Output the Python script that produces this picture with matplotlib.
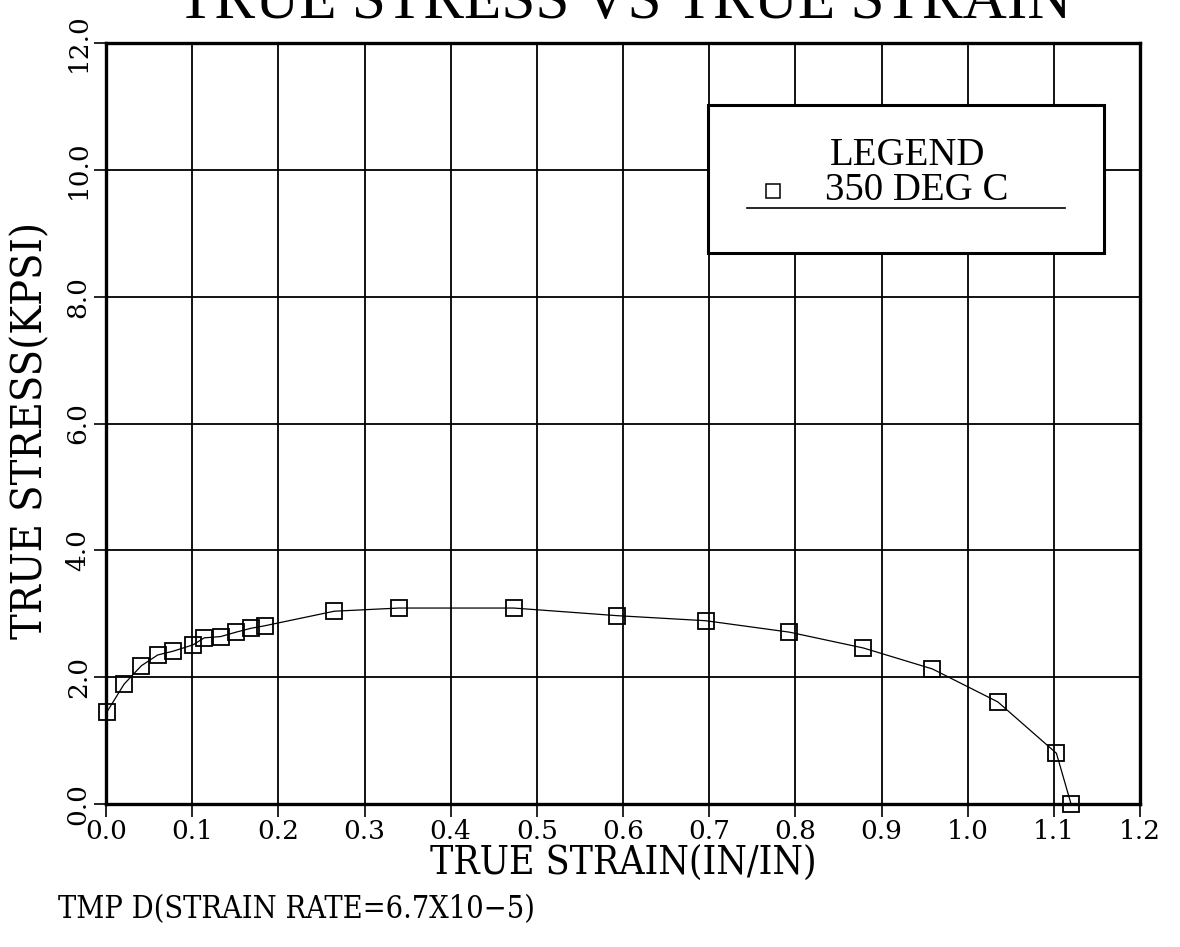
import matplotlib
matplotlib.use("Agg")
import matplotlib.pyplot as plt
from matplotlib import font_manager
from matplotlib.patches import Rectangle
from matplotlib.lines import Line2D

# true strain (in/in) and true stress (kpsi), 350 deg C
strain = [0.001, 0.021, 0.041, 0.060, 0.078, 0.101, 0.114, 0.133, 0.151, 0.168,
          0.184, 0.265, 0.340, 0.473, 0.593, 0.696, 0.793, 0.879, 0.959, 1.035,
          1.103, 1.120]
stress = [1.45, 1.89, 2.18, 2.35, 2.41, 2.51, 2.62, 2.64, 2.71, 2.77,
          2.81, 3.04, 3.09, 3.09, 2.97, 2.89, 2.71, 2.46, 2.13, 1.61,
          0.80, 0.00]

x_ticks = [0.0, 0.1, 0.2, 0.3, 0.4, 0.5, 0.6, 0.7, 0.8, 0.9, 1.0, 1.1, 1.2]
y_ticks = [0.0, 2.0, 4.0, 6.0, 8.0, 10.0, 12.0]

title = "TRUE STRESS VS TRUE STRAIN"
x_label = "TRUE STRAIN(IN/IN)"
y_label = "TRUE STRESS(KPSI)"
subtitle = "TMP D(STRAIN RATE=6.7X10\u22125)"
series_name = "350 DEG C"

# narrow serif for the labels if the condensed DejaVu face is there
names = {f.name for f in font_manager.fontManager.ttflist}
if "DejaVu Serif Condensed" in names:
    NARROW = dict(fontfamily="DejaVu Serif Condensed")
else:
    NARROW = dict(fontfamily="DejaVu Serif", fontstretch="condensed")
SERIF = "Liberation Serif"
TICKFONT = "DejaVu Serif"

fig = plt.figure(figsize=(11.8, 9.47), dpi=100)
ax = fig.add_axes([106 / 1180, 1 - 804 / 947, 1034 / 1180, 761 / 947])

ax.plot(strain, stress, color="black", linewidth=0.9, marker="s", markersize=12,
        markerfacecolor="none", markeredgecolor="black", markeredgewidth=1.3,
        zorder=3, clip_on=False)

ax.set_xlim(0.0, 1.2)
ax.set_ylim(0.0, 12.0)
ax.set_xticks(x_ticks)
ax.set_yticks(y_ticks)
ax.set_xticklabels([f"{v:.1f}" for v in x_ticks], fontfamily=TICKFONT, fontsize=19)
ax.set_yticklabels([f"{v:.1f}" for v in y_ticks], fontfamily=TICKFONT, fontsize=19,
                   rotation=90, va="center")
ax.tick_params(direction="out", length=9, width=1.2, color="black", pad=2)
ax.grid(True, color="black", linewidth=1.3)
ax.set_axisbelow(True)
for s in ax.spines.values():
    s.set_linewidth(2.4)
    s.set_color("black")

# legend box drawn like the original plot package
ax.add_patch(Rectangle((0.582, 0.724), 0.383, 0.1945, transform=ax.transAxes,
                       facecolor="white", edgecolor="black", linewidth=2.2, zorder=5))
ax.text(0.775, 0.852, "LEGEND", transform=ax.transAxes, ha="center", va="center",
        fontfamily=SERIF, fontsize=28, zorder=6)
ax.plot([0.645], [0.806], transform=ax.transAxes, marker="s", markersize=10,
        markerfacecolor="none", markeredgecolor="black", markeredgewidth=1.1,
        linestyle="none", zorder=6, clip_on=False)
ax.text(0.695, 0.806, series_name, transform=ax.transAxes, ha="left", va="center",
        fontfamily=SERIF, fontsize=28, zorder=6)
ax.add_line(Line2D([0.620, 0.927], [0.783, 0.783], transform=ax.transAxes,
                   color="black", linewidth=1.2, zorder=6))

fig.text(0.529, 1 - 18 / 947, title, ha="center", va="baseline",
         fontfamily=SERIF, fontsize=44)
fig.text(0.528, 1 - 864 / 947, x_label, ha="center", va="center",
         fontsize=28, **NARROW)
fig.text(30 / 1180, 1 - 430 / 947, y_label, ha="center", va="center", rotation=90,
         fontsize=31, **NARROW)
fig.text(58 / 1180, 1 - 910 / 947, subtitle, ha="left", va="center",
         fontsize=22, **NARROW)

fig.savefig("out.png", dpi=100, facecolor="white")
